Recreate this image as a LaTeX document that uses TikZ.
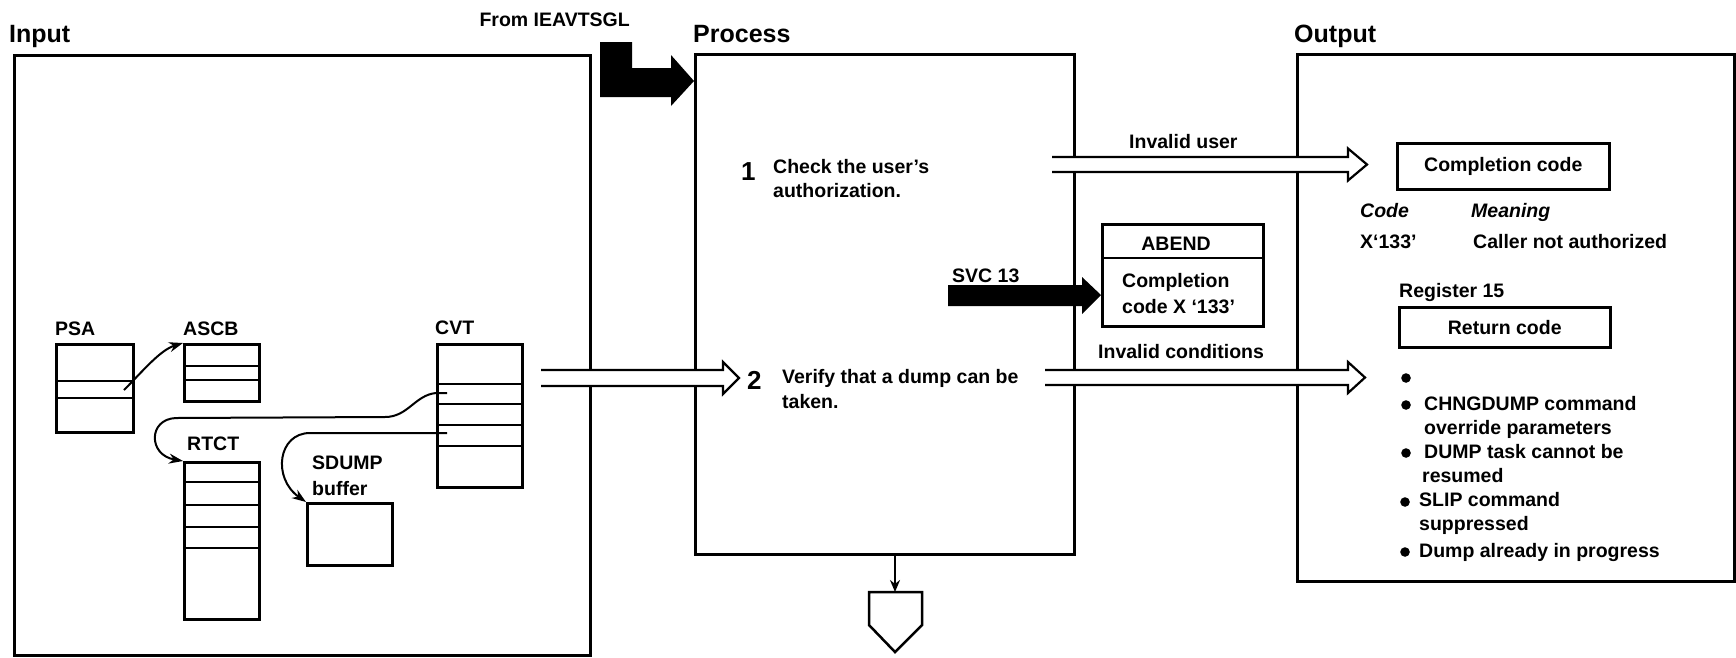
\documentclass[tikz,border=0pt]{standalone}
\usepackage{fontspec}
\setmainfont{Liberation Sans}
\usetikzlibrary{arrows.meta,calc}
\newcommand\dtxtfont{\fontsize{19.5}{23}\selectfont\bfseries}
\newcommand\HollowArrow[5]{%
  \fill[white] let \p1=(#1), \p2=(#2) in
    (\x1,{\y2+#3}) -- ({\x2-#5},{\y2+#3}) -- ({\x2-#5},{\y2+#4}) -- (\x2,\y2)
    -- ({\x2-#5},{\y2-#4}) -- ({\x2-#5},{\y2-#3}) -- (\x1,{\y2-#3}) -- cycle;
  \draw[hollow] let \p1=(#1), \p2=(#2) in
    (\x1,{\y2+#3}) -- ({\x2-#5},{\y2+#3}) -- ({\x2-#5},{\y2+#4}) -- (\x2,\y2)
    -- ({\x2-#5},{\y2-#4}) -- ({\x2-#5},{\y2-#3}) -- (\x1,{\y2-#3});
}
\begin{document}
\begin{tikzpicture}[x=1pt,y=-1pt,
  bigbox/.style={draw, line width=3pt, inner sep=0pt, anchor=north west},
  blk/.style={draw, line width=2.5pt, inner sep=0pt, anchor=north west, font=\dtxtfont},
  txt/.style={inner sep=0pt, anchor=base west, font=\dtxtfont},
  ttl/.style={inner sep=0pt, anchor=base west, font=\fontsize{25}{30}\selectfont\bfseries},
  num/.style={inner sep=0pt, anchor=base west, font=\fontsize{26}{28}\selectfont\bfseries},
  rowline/.style={line width=2pt},
  ptr/.style={line width=2pt, -{Stealth[length=14pt,width=10pt]}},
  hollow/.style={line width=2.2pt, line join=miter},
]
\useasboundingbox (0,0) rectangle (1736,657);

% ---------- main boxes
\node[bigbox, minimum width=576pt, minimum height=600pt] (inbox) at (13,54) {};
\node[bigbox, minimum width=379pt, minimum height=500pt] (proc) at (694,53) {};
\node[bigbox, minimum width=437pt, minimum height=527pt] (outbox) at (1296,53) {};

% ---------- titles
\node[ttl] (tin) at (9,42) {Input};
\node[ttl] (tproc) at (693,42) {Process};
\node[ttl] (tout) at (1294,42) {Output};
\node[txt, anchor=base east] (from) at (630,26) {From IEAVTSGL};

% ---------- input data areas
\node[blk, minimum width=77pt, minimum height=88pt] (psa) at (55,343) {};
\draw[rowline] (55,381) -- (132,381) (55,398) -- (132,398);
\node[txt] (lpsa) at (55,335) {PSA};

\node[blk, minimum width=75pt, minimum height=57pt] (ascb) at (183,343) {};
\draw[rowline] (183,366) -- (258,366) (183,380) -- (258,380);
\node[txt] (lascb) at (183,335) {ASCB};

\node[blk, minimum width=75pt, minimum height=157pt] (rtct) at (183,461) {};
\draw[rowline] (183,482) -- (258,482) (183,505) -- (258,505)
               (183,527) -- (258,527) (183,548) -- (258,548);
\node[txt] (lrtct) at (187,450) {RTCT};

\node[blk, minimum width=85pt, minimum height=143pt] (cvt) at (436,343) {};
\draw[rowline] (436,384) -- (521,384) (436,404) -- (521,404)
               (436,425) -- (521,425) (436,446) -- (521,446);
\node[txt] (lcvt) at (435,334) {CVT};

\node[blk, minimum width=85pt, minimum height=62pt] (sdump) at (306,502) {};
\node[txt] (lsd1) at (312,469) {SDUMP};
\node[txt] (lsd2) at (312,495) {buffer};

% pointers
\coordinate (psaptr) at (124,390);
\coordinate (cvtp1) at (447,393);
\coordinate (cvtp2) at (447,433);
\draw[ptr] (psaptr) .. controls (142,372) and (160,350) .. (ascb.north west);
\draw[ptr] (cvtp1) -- (436,393) .. controls (415,395) and (408,417) .. (385,417)
   -- (176,418) .. controls (148,419) and (148,455) .. (rtct.north west);
\draw[ptr] (cvtp2) -- (310,433) .. controls (278,433) and (272,478) .. (sdump.north west);

% ---------- hollow arrows
\coordinate (a2tail) at (541,378);
\coordinate (a2tip) at (739,378);
\HollowArrow{a2tail}{a2tip}{8pt}{16pt}{16pt}
\coordinate (iutail) at (1052,164.5);
\coordinate (iutip) at (1367,164.5);
\HollowArrow{iutail}{iutip}{7.5pt}{16pt}{19pt}
\coordinate (ictail) at (1045,377.5);
\coordinate (ictip) at (1365,377.5);
\HollowArrow{ictail}{ictip}{7.5pt}{15.5pt}{17pt}

% ---------- black arrows
\coordinate (fromtip) at (694,81);
\fill (600,42) -- (632,42) -- (632,68) -- (671,68) -- (671,55) -- (fromtip)
  -- (671,106) -- (671,97) -- (600,97) -- cycle;
\coordinate (svctip) at (1101,295);
\fill (948,285) -- (1082,285) -- (1082,277) -- (svctip) -- (1082,314)
  -- (1082,306) -- (948,306) -- cycle;
\node[txt] (svc) at (952,282) {SVC 13};

% ---------- process steps
\node[num] (n1) at (741,180) {1};
\node[txt] (s1a) at (773,173) {Check the user’s};
\node[txt] (s1b) at (773,197) {authorization.};
\node[num] (n2) at (747,389) {2};
\node[txt] (s2a) at (782,383) {Verify that a dump can be};
\node[txt] (s2b) at (782,408) {taken.};

% ABEND box
\node[blk, minimum width=161pt, minimum height=102pt] (abend) at (1101,223) {};
\draw[rowline] (1101,258) -- (1262,258);
\node[txt, anchor=base] (abt) at (1176,250) {ABEND};
\node[txt] (ab1) at (1122,287) {Completion};
\node[txt] (ab2) at (1122,313) {code X ‘133’};

\node[txt] (iu) at (1129,148) {Invalid user};
\node[txt] (ic) at (1098,358) {Invalid conditions};

% off-page connector
\coordinate (offp) at (895,592);
\draw[line width=2.5pt, line join=miter] (offp) -- (922,592) -- (922,625) -- (895,652)
   -- (869,625) -- (869,592) -- cycle;
\draw[line width=2pt, -{Stealth[length=12pt,width=10pt]}] (proc.south -| offp) -- (offp);

% ---------- output
\node[blk, minimum width=212pt, minimum height=46pt] (cc) at (1396,142) {Completion code};
\node[txt] (hcode) at (1360,217) {\itshape Code};
\node[txt] (hmean) at (1471,217) {\itshape Meaning};
\node[txt] (c133) at (1360,248) {X‘133’};
\node[txt] (m133) at (1473,248) {Caller not authorized};
\node[txt] (reg) at (1399,297) {Register 15};
\node[blk, minimum width=211pt, minimum height=40pt] (rc) at (1398,306) {Return code};

\fill (1406,378) circle (4.8);
\fill (1406,405) circle (4.8);
\fill (1406,453) circle (4.8);
\fill (1405,502) circle (4.8);
\fill (1405,552) circle (4.8);
\node[txt] (b1a) at (1424,410) {CHNGDUMP command};
\node[txt] (b1b) at (1424,434) {override parameters};
\node[txt] (b2a) at (1424,458) {DUMP task cannot be};
\node[txt] (b2b) at (1422,482) {resumed};
\node[txt] (b3a) at (1419,506) {SLIP command};
\node[txt] (b3b) at (1419,530) {suppressed};
\node[txt] (b4) at (1419,557) {Dump already in progress};
\end{tikzpicture}
\end{document}
